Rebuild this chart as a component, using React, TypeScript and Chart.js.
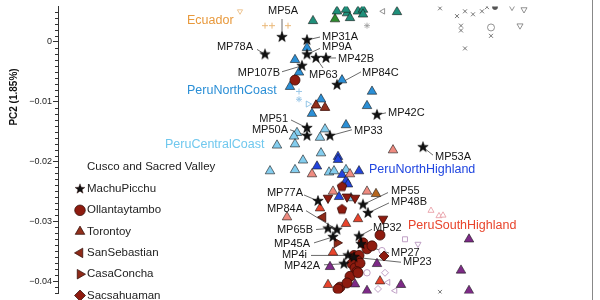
import React, { useEffect, useRef } from "react";
import { Chart, registerables } from "chart.js";
Chart.register(...registerables);

const FONT = "'Liberation Sans', Arial, Helvetica, sans-serif";
type Pt = [number, number];

// ---- axis ----
const Y_MIN = -0.04208;
const Y_MAX = 0.00592;
const X_MIN = -0.03;
const X_MAX = 0.0234;
const yTitle = "PC2 (1.85%)";

// ---- data (PC1, PC2) ----
const machuPicchuIds = ["MP5A","MP31A","MP9A","MP63","MP42B","MP78A","MP107B","MP84C","MP51","MP50A","MP33","MP42C","MP53A","MP77A","MP84A","MP65B","MP45A","MP4i","MP42A","MP55","MP48B","MP32","MP27","MP23"];
const machuPicchu: Pt[] = [
  [-0.0076, 0.0008], [-0.0051, 0.0003], [-0.0051, -0.0021], [-0.0042, -0.0027], [-0.0032, -0.0027],
  [-0.0093, -0.0021], [-0.0056, -0.004], [-0.0021, -0.0072], [-0.0051, -0.0144], [-0.0051, -0.0157],
  [-0.0028, -0.0157], [0.0019, -0.0122], [0.0065, -0.0176], [-0.004, -0.0266], [-0.0021, -0.0314],
  [-0.003, -0.0312], [-0.0025, -0.0326], [-0.001, -0.0357], [-0.0014, -0.0371], [0.0005, -0.0272],
  [0.001, -0.0286], [0.0001, -0.0325], [0.0003, -0.0338], [-0.0004, -0.036],
];
const ollantaytambo: Pt[] = [
  [-0.0063, -0.0064], [-0.0004, -0.0357], [0.0001, -0.0357], [-0.0001, -0.0365], [-0.0006, -0.0371],
  [-0.0003, -0.0378], [0.0002, -0.037], [-0.0001, -0.0384], [-0.0008, -0.0392], [0.0, -0.0386],
  [-0.0018, -0.041], [-0.0011, -0.0403], [-0.002, -0.0413], [0.0005, -0.0336], [0.0009, -0.0346],
  [0.0014, -0.0341], [0.0022, -0.0323],
];
const torontoy: Pt[] = [[-0.0042, -0.0106], [-0.0033, -0.011]];
const sanSebastian: Pt[] = [[-0.0035, -0.0293]];
const casaConcha: Pt[] = [[-0.0021, -0.0336]];
const sacsahuaman: Pt[] = [[0.0026, -0.0358]];
const cuscoPentagon: Pt[] = [[-0.0016, -0.0242], [-0.0016, -0.028]];
const cuscoDownTri: Pt[] = [[0.0025, -0.0296], [-0.0011, -0.0259], [-0.0003, -0.0261], [-0.003, -0.0261]];

const ecuadorPlus: Pt[] = [[-0.0093, 0.0027], [-0.0086, 0.0027], [-0.007, 0.0027]];
const ecuadorOpen: Pt[] = [[-0.0118, 0.0051]];
const amazonTeal: Pt[] = [
  [-0.0045, 0.0035], [-0.0021, 0.0051], [-0.0011, 0.0048], [-0.0008, 0.004], [-0.0012, 0.0054],
  [0.0, 0.0051], [0.0005, 0.0054], [0.0005, 0.0046], [0.0039, 0.005],
];
const amazonGreen: Pt[] = [[-0.0023, 0.0038]];
const peruNorthCoast: Pt[] = [
  [-0.0051, -0.001], [-0.0063, -0.003], [-0.0059, -0.0051], [-0.0068, -0.0075], [-0.0037, -0.0096],
  [-0.0016, -0.0064], [0.0014, -0.0083], [0.0009, -0.0107], [-0.0012, -0.0139], [-0.0046, -0.012],
];
const northCoastPlus: Pt[] = [[-0.0059, -0.0083]];
const northCoastStarOpen: Pt[] = [[-0.0059, -0.0096]];
const northCoastTriOpen: Pt[] = [[-0.005, -0.0104]];
const peruCentralCoast: Pt[] = [
  [-0.0033, -0.0146], [-0.0038, -0.016], [-0.0061, -0.0152], [-0.0064, -0.0158], [-0.0081, -0.0173],
  [-0.0063, -0.0171], [-0.0037, -0.0186], [-0.0055, -0.0198], [-0.0063, -0.0214], [-0.0088, -0.0216],
  [-0.0029, -0.0218], [-0.0024, -0.0216], [-0.0012, -0.0214], [-0.0007, -0.0261],
];
const peruNorthHighland: Pt[] = [
  [-0.002, -0.0192], [-0.002, -0.0197], [-0.0041, -0.0208], [-0.0016, -0.0222], [0.0001, -0.0216],
  [-0.0012, -0.0232], [-0.001, -0.0238], [-0.0019, -0.0259],
];
const peruSalmon: Pt[] = [
  [0.0035, -0.0181], [-0.0046, -0.0221], [-0.0008, -0.0221], [-0.0025, -0.025], [0.0009, -0.025], [-0.0071, -0.0293],
];
const peruSouthHighland: Pt[] = [
  [-0.0038, -0.0278], [-0.0012, -0.0304], [0.0, -0.0296], [-0.0025, -0.0352], [-0.003, -0.0406], [0.0022, -0.04],
];
const peruPurple: Pt[] = [
  [-0.0028, -0.0376], [-0.0003, -0.0405], [0.0009, -0.0416], [0.0019, -0.0371], [0.0111, -0.033],
  [0.0103, -0.0382], [0.0043, -0.0406], [0.0111, -0.0416],
];
const peruBrown: Pt[] = [[0.0018, -0.0254]];
const grayCross: Pt[] = [
  [0.0082, 0.0056], [0.0099, 0.0043], [0.0107, 0.0051], [0.0115, 0.0046], [0.0124, 0.0051], [0.0129, 0.0058],
  [0.0103, 0.0027], [0.0103, 0.0019], [0.0133, 0.001], [0.0107, -0.0011], [0.0082, -0.0418],
];
const grayDot: Pt[] = [[0.0137, 0.0058]];
const grayCircleOpen: Pt[] = [[0.0133, 0.0024]];
const grayDownTri: Pt[] = [[0.0154, 0.0058], [0.0166, 0.0054], [0.0162, 0.0027]];
const grayStar: Pt[] = [[0.0009, 0.0027]];
const grayLeftTri: Pt[] = [[0.0025, 0.0051]];
const lilacSquare: Pt[] = [[0.0047, -0.033]];
const lilacDownTri: Pt[] = [[0.006, -0.0338]];
const lilacDiamond: Pt[] = [[0.0027, -0.0386], [0.002, -0.0413]];
const lilacLeftTri: Pt[] = [[0.003, -0.0402], [0.0037, -0.0416]];
const lilacCircle: Pt[] = [[0.0009, -0.0386], [0.0024, -0.0349]];
const pinkOpenTri: Pt[] = [[0.0073, -0.0282], [0.0081, -0.0291], [0.0085, -0.029]];

// ---- text annotations ----
const groupLabels = [
  { text: "Ecuador", x: -0.0171, y: 0.0035, color: "#e8993c" },
  { text: "PeruNorthCoast", x: -0.0171, y: -0.0082, color: "#2b8fd6" },
  { text: "PeruCentralCoast", x: -0.0193, y: -0.0171, color: "#70c8ee" },
  { text: "PeruNorthHighland", x: 0.0011, y: -0.0214, color: "#2046e0" },
  { text: "PeruSouthHighland", x: 0.005, y: -0.0307, color: "#e8442c" },
];
const mpLabels = [
  { id: "MP5A", align: "center", tx: 1, ty: -26, lx: 0, ly: -18 },
  { id: "MP31A", align: "left", tx: 15, ty: -3, lx: 13, ly: -3 },
  { id: "MP9A", align: "left", tx: 15, ty: -7, lx: 13, ly: -6 },
  { id: "MP42B", align: "left", tx: 12, ty: 1, lx: 10, ly: 0 },
  { id: "MP63", align: "left", tx: -7, ty: 17, lx: 7, ly: 10 },
  { id: "MP78A", align: "right", tx: -12, ty: -7, lx: -8, ly: -5 },
  { id: "MP107B", align: "right", tx: -22, ty: 7, lx: -20, ly: 6 },
  { id: "MP84C", align: "left", tx: 25, ty: -12, lx: 24, ly: -13 },
  { id: "MP51", align: "right", tx: -19, ty: -9, lx: -16, ly: -8 },
  { id: "MP50A", align: "right", tx: -19, ty: -6, lx: -17, ly: -6 },
  { id: "MP33", align: "left", tx: 24, ty: -5, lx: 22, ly: -6 },
  { id: "MP42C", align: "left", tx: 11, ty: -2, lx: 9, ly: -2 },
  { id: "MP53A", align: "left", tx: 12, ty: 10, lx: 10, ly: 8 },
  { id: "MP77A", align: "right", tx: -15, ty: -8, lx: -14, ly: -6 },
  { id: "MP84A", align: "right", tx: -34, ty: -21, lx: -31, ly: -19 },
  { id: "MP65B", align: "right", tx: -15, ty: 1, lx: -12, ly: 1 },
  { id: "MP45A", align: "right", tx: -23, ty: 7, lx: -19, ly: 6 },
  { id: "MP4i", align: "right", tx: -41, ty: 0, lx: -37, ly: 0 },
  { id: "MP42A", align: "right", tx: -24, ty: 2, lx: -20, ly: 1 },
  { id: "MP55", align: "left", tx: 28, ty: -14, lx: 25, ly: -12 },
  { id: "MP48B", align: "left", tx: 23, ty: -11, lx: 21, ly: -10 },
  { id: "MP32", align: "left", tx: 14, ty: -8, lx: 13, ly: -7 },
  { id: "MP27", align: "left", tx: 30, ty: 9, lx: 28, ly: 9 },
  { id: "MP23", align: "left", tx: 49, ty: 5, lx: 47, ly: 5 },
];
const legendTitle = "Cusco and Sacred Valley";
const legendItems = [
  { label: "MachuPicchu", shape: "star", color: "#111111" },
  { label: "Ollantaytambo", shape: "circle", color: "#8e1b0f" },
  { label: "Torontoy", shape: "triangle", color: "#92301c" },
  { label: "SanSebastian", shape: "triLeft", color: "#8e2a18" },
  { label: "CasaConcha", shape: "triRight", color: "#8e2a18" },
  { label: "Sacsahuaman", shape: "diamond", color: "#8e1b0f" },
];

function shapePath(ctx: CanvasRenderingContext2D, kind: string, cx: number, cy: number, r: number) {
  ctx.beginPath();
  const D = Math.PI / 180;
  const poly = (n: number, start: number, radii: number[]) => {
    for (let i = 0; i < n; i++) {
      const a = start + (i * 2 * Math.PI) / n;
      const rr = radii[i % radii.length];
      const x = cx + rr * Math.cos(a), y = cy + rr * Math.sin(a);
      if (i === 0) ctx.moveTo(x, y); else ctx.lineTo(x, y);
    }
    ctx.closePath();
  };
  switch (kind) {
    case "star": poly(10, -90 * D, [r, r * 0.42]); break;
    case "pentagon": poly(5, -90 * D, [r]); break;
    case "circle": ctx.arc(cx, cy, r, 0, Math.PI * 2); break;
    case "triangle": poly(3, -90 * D, [r]); break;
    case "triRight": poly(3, 0, [r]); break;
    case "triDown": poly(3, 90 * D, [r]); break;
    case "triLeft": poly(3, 180 * D, [r]); break;
    case "diamond": poly(4, -90 * D, [r]); break;
  }
}

function markerImage(kind: string, r: number, fill: string, stroke: string, lw: number) {
  const s = Math.ceil(2 * r + 2 * lw + 2);
  const c = document.createElement("canvas");
  c.width = s; c.height = s;
  const ctx = c.getContext("2d")!;
  shapePath(ctx, kind, s / 2, s / 2, r);
  ctx.fillStyle = fill; ctx.fill();
  if (lw > 0) { ctx.strokeStyle = stroke; ctx.lineWidth = lw; ctx.stroke(); }
  return c;
}

const toXY = (pts: Pt[]) => pts.map(([x, y]) => ({ x, y }));
const EDGE = "rgba(25,25,25,0.75)";

function sc(label: string, pts: Pt[], style: any, radius: number, bg: string, border: string, bw: number, rotation = 0) {
  return {
    label, data: toXY(pts), pointStyle: style, pointRadius: radius, pointHoverRadius: radius,
    backgroundColor: bg, borderColor: border, borderWidth: bw, rotation, showLine: false,
  };
}

export default function App() {
  const ref = useRef<HTMLCanvasElement>(null);
  useEffect(() => {
    const starImg = markerImage("star", 5.5, "#111111", "#000000", 0.5);
    const pentImg = markerImage("pentagon", 5, "#8e1b0f", "#3a0a05", 0.8);
    const datasets: any[] = [
      sc("MachuPicchu", machuPicchu, starImg, 6, "#111", "#000", 0),
      sc("Ollantaytambo", ollantaytambo, "circle", 5, "#8e1b0f", "#3a0a05", 0.8),
      sc("Sacsahuaman", sacsahuaman, "rectRot", 5, "#8e1b0f", "#3a0a05", 0.8),
      sc("CasaConcha", casaConcha, "triangle", 5.5, "#8e2a18", "#3a0a05", 0.8, 90),
      sc("SanSebastian", sanSebastian, "triangle", 5.5, "#8e2a18", "#3a0a05", 0.8, -90),
      sc("Torontoy", torontoy, "triangle", 5.5, "#92301c", "#3a0a05", 0.8),
      sc("CuscoPent", cuscoPentagon, pentImg, 5, "#8e1b0f", "#3a0a05", 0.8),
      sc("CuscoDown", cuscoDownTri, "triangle", 5.5, "#8e1b0f", "#3a0a05", 0.8, 180),
      sc("Brown", peruBrown, "triangle", 5.5, "#b5661e", EDGE, 0.8),
      sc("SouthHighland", peruSouthHighland, "triangle", 5.5, "#e8442c", EDGE, 0.8),
      sc("Purple", peruPurple, "triangle", 5.5, "#7d2a87", EDGE, 0.8),
      sc("Salmon", peruSalmon, "triangle", 5.5, "#ef8b80", EDGE, 0.8),
      sc("NorthHighland", peruNorthHighland, "triangle", 5.5, "#2244dd", EDGE, 0.8),
      sc("CentralCoast", peruCentralCoast, "triangle", 5.5, "#84cdee", EDGE, 0.8),
      sc("NorthCoast", peruNorthCoast, "triangle", 5.5, "#2b8fd6", EDGE, 0.8),
      sc("AmazonGreen", amazonGreen, "triangle", 5.5, "#2e8b2e", EDGE, 0.8),
      sc("AmazonTeal", amazonTeal, "triangle", 5.5, "#1f8f7a", EDGE, 0.8),
      sc("NCPlus", northCoastPlus, "cross", 3, "transparent", "#9cc8e8", 1),
      sc("NCStar", northCoastStarOpen, "star", 3, "transparent", "#9cc8e8", 1),
      sc("NCTri", northCoastTriOpen, "triangle", 3.5, "#ffffff", "#7ab8e0", 0.8, 90),
      sc("EcuadorPlus", ecuadorPlus, "cross", 3, "transparent", "#eab878", 1),
      sc("EcuadorOpen", ecuadorOpen, "triangle", 3, "#ffffff", "#eab878", 0.8, 180),
      sc("GrayCross", grayCross, "crossRot", 2.8, "transparent", "#666", 0.9),
      sc("GrayDot", grayDot, "circle", 2.5, "#555", "#555", 0.8),
      sc("GrayCircle", grayCircleOpen, "circle", 3.5, "#ffffff", "#777", 0.8),
      sc("GrayDownTri", grayDownTri, "triangle", 3.5, "#ffffff", "#777", 0.8, 180),
      sc("GrayStar", grayStar, "star", 3, "transparent", "#999", 0.8),
      sc("GrayLeft", grayLeftTri, "triangle", 3.2, "#ffffff", "#777", 0.8, -90),
      sc("LilacSq", lilacSquare, "rect", 3.5, "#ffffff", "#b996c0", 0.9),
      sc("LilacDown", lilacDownTri, "triangle", 3.5, "#ffffff", "#b996c0", 0.9, 180),
      sc("LilacDiam", lilacDiamond, "rectRot", 3.5, "#ffffff", "#b996c0", 0.9),
      sc("LilacLeft", lilacLeftTri, "triangle", 3.5, "#ffffff", "#b996c0", 0.9, -90),
      sc("LilacCircle", lilacCircle, "circle", 3.2, "#ffffff", "#b996c0", 0.9),
      sc("PinkTri", pinkOpenTri, "triangle", 3.5, "#ffffff", "#e9a0a8", 0.9),
    ];

    const starPx = (chart: any, id: string) => {
      const i = machuPicchuIds.indexOf(id);
      const [x, y] = machuPicchu[i];
      return [chart.scales.x.getPixelForValue(x), chart.scales.y.getPixelForValue(y)];
    };

    const overlay = {
      id: "overlay",
      beforeDatasetsDraw(chart: any) {
        const ctx = chart.ctx;
        ctx.save();
        ctx.strokeStyle = "#444";
        ctx.lineWidth = 0.8;
        for (const a of mpLabels) {
          const [sx, sy] = starPx(chart, a.id);
          ctx.beginPath();
          ctx.moveTo(sx, sy);
          ctx.lineTo(sx + a.lx, sy + a.ly);
          ctx.stroke();
        }
        ctx.restore();
      },
      afterDatasetsDraw(chart: any) {
        const ctx = chart.ctx;
        const area = chart.chartArea;
        const ys = chart.scales.y, xs = chart.scales.x;
        ctx.save();
        ctx.strokeStyle = "#333";
        ctx.lineWidth = 1;
        for (let i = -42; i <= 5; i++) {
          if (i % 10 === 0) continue;
          const py = Math.round(ys.getPixelForValue(i / 1000)) + 0.5;
          ctx.beginPath(); ctx.moveTo(area.left - 3, py); ctx.lineTo(area.left, py); ctx.stroke();
        }
        ctx.strokeStyle = "#888";
        ctx.beginPath(); ctx.moveTo(area.right + 0.5, 0); ctx.lineTo(area.right + 0.5, chart.height); ctx.stroke();
        ctx.textBaseline = "middle";
        ctx.textAlign = "left";
        ctx.font = `12.5px ${FONT}`;
        for (const g of groupLabels) {
          ctx.fillStyle = g.color;
          ctx.fillText(g.text, xs.getPixelForValue(g.x), ys.getPixelForValue(g.y));
        }
        ctx.font = `11px ${FONT}`;
        ctx.fillStyle = "#161616";
        for (const a of mpLabels) {
          const [sx, sy] = starPx(chart, a.id);
          ctx.textAlign = a.align as CanvasTextAlign;
          ctx.fillText(a.id, sx + a.tx, sy + a.ty);
        }
        ctx.textAlign = "left";
        ctx.font = `11.5px ${FONT}`;
        ctx.fillStyle = "#222";
        ctx.fillText(legendTitle, 87, 167);
        legendItems.forEach((it, k) => {
          const y = 189 + k * 21.3;
          const r = it.shape === "star" ? 5.2 : it.shape === "circle" ? 5.3 : 5.5;
          shapePath(ctx, it.shape, 80, y, r);
          ctx.fillStyle = it.color; ctx.fill();
          ctx.strokeStyle = "#2a0805"; ctx.lineWidth = it.shape === "star" ? 0.4 : 0.7; ctx.stroke();
          ctx.fillStyle = "#222";
          ctx.fillText(it.label, 87, y);
        });
        ctx.translate(14, 97);
        ctx.rotate(-Math.PI / 2);
        ctx.textAlign = "center";
        ctx.font = `bold 10px ${FONT}`;
        ctx.fillStyle = "#111";
        ctx.fillText(yTitle, 0, 0);
        ctx.restore();
      },
    };

    const chart = new Chart(ref.current!, {
      type: "scatter",
      data: { datasets },
      options: {
        animation: false,
        responsive: false,
        events: [],
        layout: { padding: { left: 0, right: 8, top: 0, bottom: 0 } },
        plugins: { legend: { display: false }, tooltip: { enabled: false } },
        scales: {
          x: { type: "linear", min: X_MIN, max: X_MAX, display: false },
          y: {
            type: "linear", min: Y_MIN, max: Y_MAX,
            afterFit: (s: any) => { s.width = 58; },
            border: { display: true, color: "#333", width: 1 },
            grid: { display: true, drawOnChartArea: false, drawTicks: true, tickLength: 5, color: "#333" },
            ticks: {
              stepSize: 0.01, includeBounds: false, autoSkip: false, padding: 1, color: "#222",
              font: { size: 9, family: FONT },
              callback: (v: any) => (Math.abs(v) < 1e-9 ? "0" : "\u2212" + Math.abs(v).toFixed(2)),
            },
          },
        },
      } as any,
      plugins: [overlay],
    });
    return () => chart.destroy();
  }, []);
  return (
    <div style={{ position: "absolute", left: 0, top: 0, width: 600, height: 300, background: "#fff" }}>
      <canvas ref={ref} width={600} height={300} style={{ display: "block" }} />
    </div>
  );
}
